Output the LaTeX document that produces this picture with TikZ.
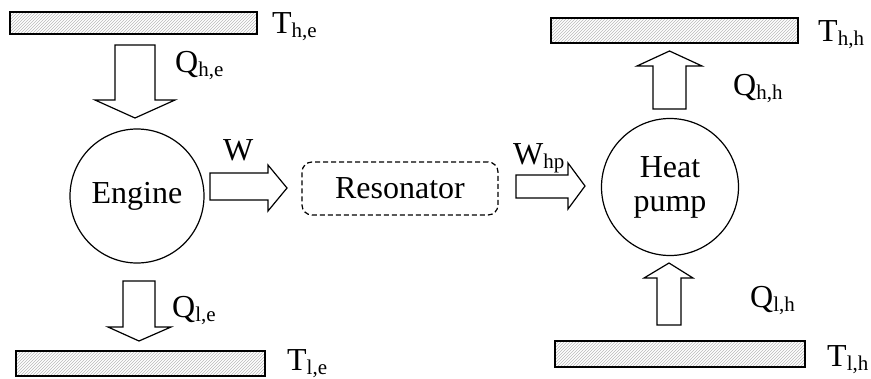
\documentclass[tikz,border=0pt]{standalone}
\usepackage{fontspec}
\setmainfont{Liberation Serif}
\usetikzlibrary{patterns}
\newcommand\sbs[1]{\raisebox{-4.5pt}{\fontsize{21}{21}\selectfont #1}}
\begin{document}
\begin{tikzpicture}[x=1pt,y=-1pt,
  every node/.style={font=\fontsize{32}{35}\selectfont, inner sep=0pt},
  bar/.style={draw, line width=1.2pt, pattern=north east lines, pattern color=gray!55},
  blk/.style={draw, line width=1.2pt, fill=white, line join=miter},
  lbl/.style={anchor=base west},
  ring/.style={draw, line width=1.2pt, circle, minimum size=134pt},
  reso/.style={draw, line width=1.2pt, dash pattern=on 5pt off 3pt, rounded corners=10pt, minimum width=196pt, minimum height=53pt}
]
\useasboundingbox (0,0) rectangle (871,378);
% reservoirs
\draw[bar] (10,12) rectangle (257,34);
\node[lbl] (The) at (272,33) {T\sbs{h,e}};
\draw[bar] (16,351) rectangle (265,376);
\node[lbl] (Tle) at (287,370) {T\sbs{l,e}};
\draw[bar] (551,18) rectangle (798,43);
\node[lbl] (Thh) at (818,41) {T\sbs{h,h}};
\draw[bar] (555,341) rectangle (805,367);
\node[lbl] (Tlh) at (827,366) {T\sbs{l,h}};
% main nodes
\node[ring] (eng) at (137,196) {Engine};
\node[ring, minimum size=137pt, align=center, font=\fontsize{32}{34}\selectfont] (hp) at (670,187) {Heat\\pump};
\node[reso] (res) at (400,188.5) {Resonator};
% block arrows
\draw[blk] (115,45) -- (155,45) -- (155,100) -- (175,100) -- (135,118) -- (95,100) -- (115,100) -- cycle;
\node[lbl] (Qhe) at (175,72) {Q\sbs{h,e}};
\draw[blk] (123,281) -- (155,281) -- (155,327) -- (171,327) -- (139,341) -- (108,327) -- (123,327) -- cycle;
\node[lbl] (Qle) at (172,317) {Q\sbs{l,e}};
\draw[blk] (210,173) -- (268,173) -- (268,165) -- (287,188) -- (268,211) -- (268,200) -- (210,200) -- cycle;
\node[lbl] (W) at (223,160) {W};
\draw[blk] (516,175) -- (568,175) -- (568,163) -- (585,186) -- (568,209) -- (568,198) -- (516,198) -- cycle;
\node[lbl] (Whp) at (513,164) {W\sbs{hp}};
\draw[blk] (653,109) -- (653,66) -- (637,66) -- (669.5,51) -- (702,66) -- (686,66) -- (686,109) -- cycle;
\node[lbl] (Qhh) at (733,95) {Q\sbs{h,h}};
\draw[blk] (657,325) -- (657,278) -- (644,278) -- (669,263) -- (693,278) -- (681,278) -- (681,325) -- cycle;
\node[lbl] (Qlh) at (750,307) {Q\sbs{l,h}};
\end{tikzpicture}
\end{document}
